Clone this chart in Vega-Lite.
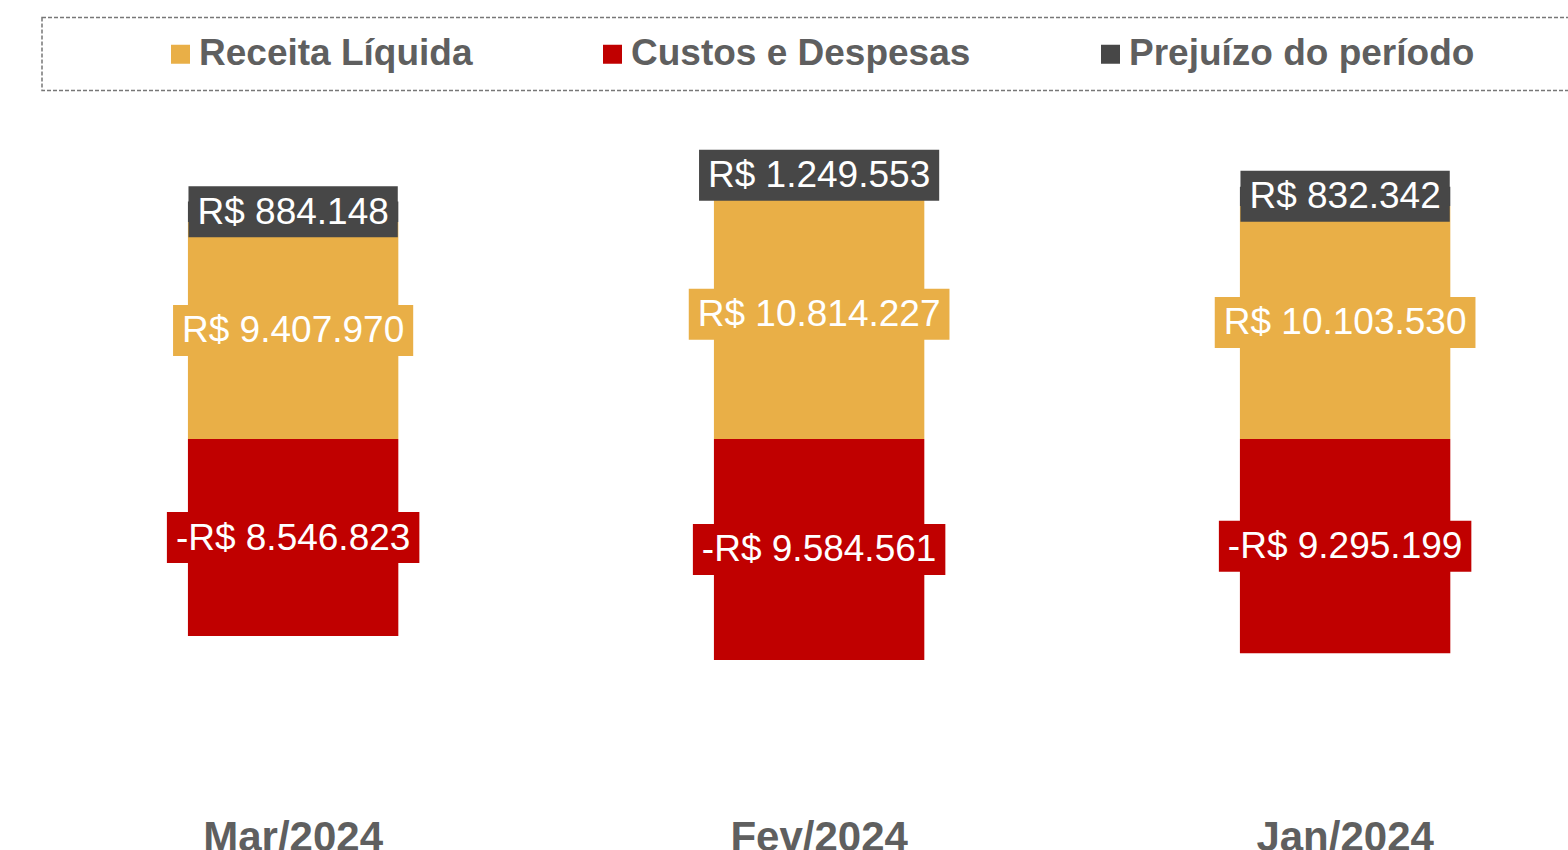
{
  "$schema": "https://vega.github.io/schema/vega-lite/v6.json",
  "width": 1538,
  "height": 715,
  "autosize": "none",
  "padding": {"left": 30, "top": 93, "right": 0, "bottom": 42},
  "background": "white",
  "config": {"view": {"stroke": null}, "font": "Liberation Sans"},
  "data": {
    "values": [
      {"month": "Mar/2024", "serie": "Receita Líquida", "value": 9407970},
      {"month": "Mar/2024", "serie": "Custos e Despesas", "value": -8546823},
      {"month": "Mar/2024", "serie": "Prejuízo do período", "value": 884148},
      {"month": "Fev/2024", "serie": "Receita Líquida", "value": 10814227},
      {"month": "Fev/2024", "serie": "Custos e Despesas", "value": -9584561},
      {"month": "Fev/2024", "serie": "Prejuízo do período", "value": 1249553},
      {"month": "Jan/2024", "serie": "Receita Líquida", "value": 10103530},
      {"month": "Jan/2024", "serie": "Custos e Despesas", "value": -9295199},
      {"month": "Jan/2024", "serie": "Prejuízo do período", "value": 832342}
    ]
  },
  "transform": [
    {"calculate": "datum.serie === 'Receita Líquida' ? 0 : (datum.serie === 'Custos e Despesas' ? 1 : 2)", "as": "ord"},
    {"stack": "value", "groupby": ["month"], "sort": [{"field": "ord", "order": "ascending"}], "as": ["v0", "v1"]},
    {"calculate": "(datum.v0 + datum.v1) / 2", "as": "mid"},
    {"calculate": "(datum.value < 0 ? '-' : '') + 'R$ ' + replace(format(abs(datum.value), ','), regexp(',', 'g'), '.')", "as": "label"},
    {"calculate": "length(toString(abs(datum.value)))", "as": "nd"},
    {"calculate": "(1.556 + datum.nd * 0.556 + floor((datum.nd - 1) / 3) * 0.278 + (datum.value < 0 ? 0.333 : 0)) * 37 + 18", "as": "bw"},
    {"calculate": "'M' + (-datum.bw / 2) + ',-25.5H' + (datum.bw / 2) + 'V25.5H' + (-datum.bw / 2) + 'Z'", "as": "boxpath"}
  ],
  "encoding": {
    "x": {
      "field": "month",
      "type": "nominal",
      "sort": ["Mar/2024", "Fev/2024", "Jan/2024"],
      "scale": {"paddingInner": 0.6, "paddingOuter": 0.262, "align": 0.573},
      "axis": {
        "title": null,
        "labelAngle": 0,
        "ticks": false,
        "domain": false,
        "grid": false,
        "labelFont": "Liberation Sans",
        "labelFontSize": 42,
        "labelFontWeight": "bold",
        "labelColor": "#5f5f5f",
        "labelPadding": 9
      }
    }
  },
  "layer": [
    {
      "mark": {"type": "bar"},
      "encoding": {
        "y": {"field": "v0", "type": "quantitative", "scale": {"domain": [-16000000, 15000000], "nice": false, "zero": false}, "axis": null},
        "y2": {"field": "v1"},
        "color": {
          "field": "serie",
          "type": "nominal",
          "scale": {
            "domain": ["Receita Líquida", "Custos e Despesas", "Prejuízo do período"],
            "range": ["#E9AF47", "#C00000", "#474747"]
          },
          "legend": {
            "orient": "none",
            "legendX": 12,
            "legendY": -75.5,
            "direction": "horizontal",
            "columns": 3,
            "symbolType": "square",
            "symbolSize": 361,
            "symbolStrokeWidth": 0,
            "symbolOpacity": 1,
            "labelFont": "Liberation Sans",
            "labelFontSize": 37,
            "labelFontWeight": "bold",
            "labelColor": "#5f5f5f",
            "labelLimit": 800,
            "symbolOffset": 102,
            "columnPadding": 19,
            "labelOffset": 0,
            "padding": 18,
            "strokeColor": "#777777",
            "title": ".",
            "titleOrient": "right",
            "titlePadding": 120,
            "titleOpacity": 0,
            "titleFontSize": 10,
            "encode": {
              "legend": {"update": {"strokeDash": {"value": [4, 2]}, "strokeWidth": {"value": 1.5}}}
            }
          }
        }
      }
    },
    {
      "mark": {"type": "rule", "color": "#d9d9d9", "strokeWidth": 1.5},
      "encoding": {"y": {"datum": 0, "type": "quantitative"}}
    },
    {
      "mark": {"type": "point", "filled": true, "opacity": 1, "strokeWidth": 0},
      "encoding": {
        "y": {"field": "mid", "type": "quantitative"},
        "shape": {"field": "boxpath", "type": "nominal", "scale": null, "legend": null},
        "size": {"value": 4},
        "color": {"field": "serie", "type": "nominal"}
      }
    },
    {
      "mark": {"type": "text", "color": "white", "font": "Liberation Sans", "fontSize": 37, "baseline": "middle", "align": "center", "dy": 1},
      "encoding": {
        "y": {"field": "mid", "type": "quantitative"},
        "text": {"field": "label", "type": "nominal"}
      }
    }
  ]
}
